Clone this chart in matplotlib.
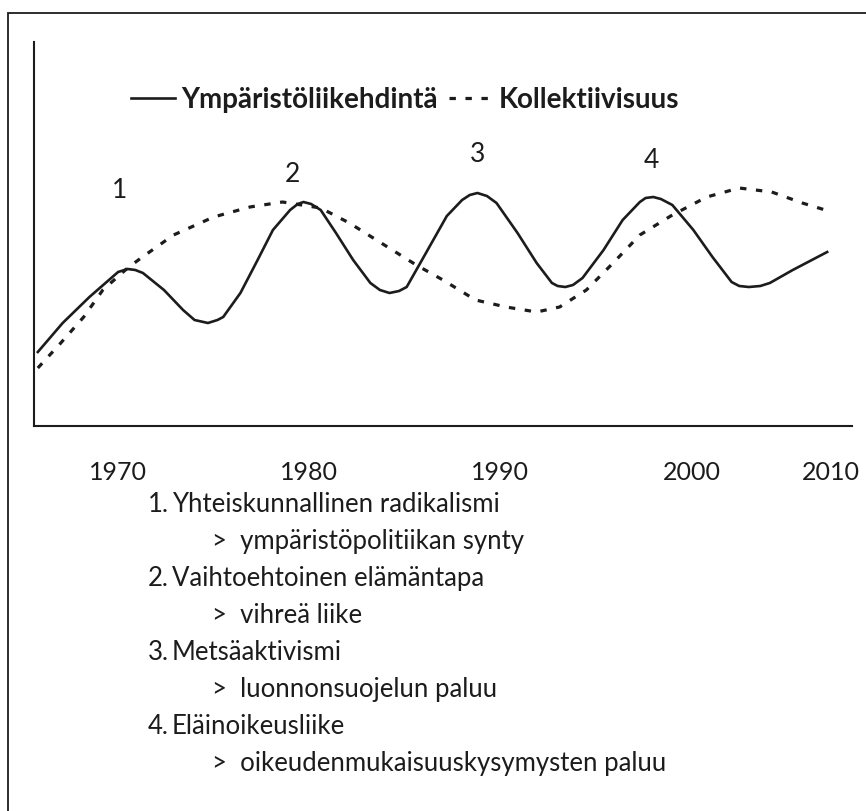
import matplotlib
matplotlib.use("Agg")
import matplotlib.pyplot as plt
from matplotlib.patches import Rectangle

plt.rcParams['font.family'] = ['Lato', 'DejaVu Sans']

# curve values (x in years, y in arbitrary units)
solid_years = [1965.8, 1967.1, 1968.5, 1969.4, 1970.0, 1970.5, 1970.9, 1971.3,
               1972.4, 1973.4, 1974.0, 1974.7, 1975.2, 1975.5, 1976.4, 1977.3,
               1978.1, 1979.0, 1979.4, 1979.7, 1980.1, 1980.6, 1981.4, 1982.3,
               1983.2, 1983.7, 1984.2, 1984.7, 1985.1, 1985.9, 1987.2, 1988.0,
               1988.4, 1988.8, 1989.3, 1989.8, 1990.9, 1991.9, 1992.7, 1993.0,
               1993.4, 1993.8, 1994.3, 1995.4, 1996.4, 1997.3, 1997.6, 1998.0,
               1998.4, 1999.0, 2000.1, 2001.1, 2002.1, 2002.5, 2003.0, 2003.6,
               2004.1, 2005.3, 2007.1]
solid_vals = [74, 103, 129, 144, 154, 157, 156, 153,
              136, 116, 106, 103, 106, 109, 133, 166,
              196, 216, 222, 224, 222, 216, 193, 166,
              143, 136, 133, 135, 139, 166, 210, 226,
              231, 233, 230, 223, 193, 163, 143, 140,
              139, 141, 148, 176, 206, 224, 228, 229,
              227, 221, 196, 169, 144, 140, 139, 140,
              143, 156, 174]

dashed_years = [1965.8, 1967.0, 1968.2, 1969.2, 1970.5, 1971.2, 1972.9, 1975.0,
                1976.9, 1978.6, 1980.6, 1982.1, 1984.1, 1985.6, 1987.0, 1988.7,
                1990.3, 1991.9, 1993.1, 1994.5, 1995.9, 1997.3, 1999.0, 2000.8,
                2002.5, 2004.2, 2005.8, 2007.0]
dashed_vals = [58, 83, 109, 136, 158, 168, 191, 209,
               219, 224, 218, 203, 179, 161, 146, 126,
               119, 114, 119, 136, 163, 191, 211, 229,
               238, 234, 223, 216]

series_names = ['Ympäristöliikehdintä', 'Kollektiivisuus']

tick_years = [1970, 1980, 1990, 2000]
tick_labels = ['1970', '1980', '1990', '2000']
last_tick_label = '2010'

phase_labels = ['1', '2', '3', '4']
phase_years = [1970.1, 1979.1, 1988.8, 1997.9]
phase_vals = [236, 251, 271, 266]

phases = [
    ('1.', 'Yhteiskunnallinen radikalismi', 'ympäristöpolitiikan synty'),
    ('2.', 'Vaihtoehtoinen elämäntapa', 'vihreä liike'),
    ('3.', 'Metsäaktivismi', 'luonnonsuojelun paluu'),
    ('4.', 'Eläinoikeusliike', 'oikeudenmukaisuuskysymysten paluu'),
]

W, H = 866, 811
ink = '#1c1c1c'

fig = plt.figure(figsize=(W / 100, H / 100), dpi=100)
fig.patch.set_facecolor('white')

# outer frame, running off the right and bottom edges like the scan
fig.patches.append(Rectangle((8 / W, -0.1), 1.2, 1 - 13 / H + 0.1,
                             transform=fig.transFigure, fill=False,
                             edgecolor=ink, linewidth=1.3))

ax = fig.add_axes([34 / W, 1 - 426 / H, (852 - 34) / W, (426 - 42) / H])
ax.set_facecolor('none')

l1, = ax.plot(solid_years, solid_vals, color=ink, lw=1.9,
              solid_joinstyle='round', label=series_names[0])
l2, = ax.plot(dashed_years, dashed_vals, color=ink, lw=2.3,
              dashes=(2.0, 3.0), label=series_names[1])

for lab, x, y in zip(phase_labels, phase_years, phase_vals):
    ax.text(x, y, lab, ha='center', va='center', fontsize=19, color=ink)

ax.set_xlim(1965.6, 2008.4)
ax.set_ylim(0, 384)
ax.set_yticks([])
ax.set_xticks(tick_years)
ax.set_xticklabels(tick_labels, fontsize=18, color=ink)
ax.tick_params(axis='x', length=0, pad=25)
ax.annotate(last_tick_label, xy=(2007.3, 0), xycoords='data',
            xytext=(0, -25), textcoords='offset points',
            ha='center', va='top', fontsize=18, color=ink)
for side in ['top', 'right']:
    ax.spines[side].set_visible(False)
for side in ['left', 'bottom']:
    ax.spines[side].set_color(ink)
    ax.spines[side].set_linewidth(1.5)

ax.legend(handles=[l1, l2], loc='center', bbox_to_anchor=(405 / W, 1 - 100 / H),
          bbox_transform=fig.transFigure, ncol=2, frameon=False,
          prop={'weight': 'bold', 'size': 20}, handlelength=1.6,
          handletextpad=0.2, columnspacing=0.4, labelcolor=ink)

# numbered explanation list below the chart
for i, (num, head, sub) in enumerate(phases):
    base = 512 + 74 * i
    fig.text(148 / W, 1 - base / H, num, fontsize=18.5, color=ink, va='baseline')
    fig.text(172 / W, 1 - base / H, head, fontsize=18.5, color=ink, va='baseline')
    fig.text(212 / W, 1 - (base + 37) / H, '>  ' + sub, fontsize=18.5, color=ink,
             va='baseline')

fig.savefig('out.png', dpi=100, facecolor='white')
